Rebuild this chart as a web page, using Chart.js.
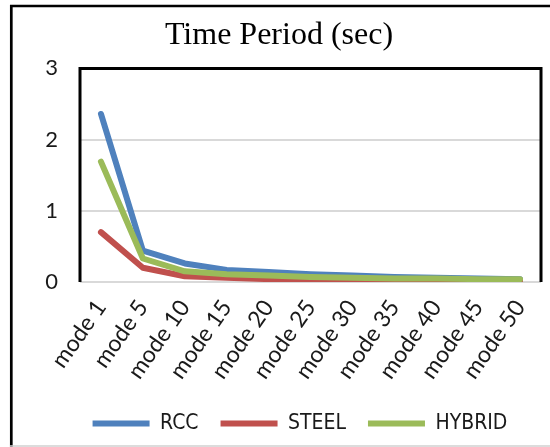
<!DOCTYPE html>
<html>
<head>
<meta charset="utf-8">
<script src="https://cdn.jsdelivr.net/npm/chart.js@4.4.1/dist/chart.umd.min.js"></script>
<style>
    html, body { margin: 0; padding: 0; background: #fff; }
    #chart { display: block; }
</style>
</head>
<body>
<canvas id="chart" width="550" height="447"></canvas>
<script>
const modes = ['mode 1', 'mode 5', 'mode 10', 'mode 15', 'mode 20', 'mode 25',
    'mode 30', 'mode 35', 'mode 40', 'mode 45', 'mode 50'];
const rcc = [2.36, 0.44, 0.26, 0.17, 0.14, 0.11, 0.09, 0.07, 0.06, 0.05, 0.04];
const steel = [0.70, 0.20, 0.08, 0.06, 0.04, 0.03, 0.03, 0.02, 0.02, 0.02, 0.02];
const hybrid = [1.69, 0.33, 0.15, 0.11, 0.09, 0.07, 0.06, 0.05, 0.05, 0.04, 0.04];
const yMax = 3;
const yStep = 1;

const textColor = '#1a1a1a';
const tickFont = "Lato, 'Liberation Sans', sans-serif";
const legendFont = "'DejaVu Sans Condensed', 'Liberation Sans', sans-serif";
const titleFont = "'Liberation Serif', 'Times New Roman', serif";

// black box round the plot (left, top, right) and the outer picture frame
const frames = {
    id: 'frames',
    afterLayout(chart) {
        // the legend sits a bit right of the title
        chart.legend.left += 21;
        chart.legend.right += 21;
    },
    beforeDatasetsDraw(chart) {
        const {ctx, chartArea: a} = chart;
        ctx.save();
        ctx.strokeStyle = '#000';
        ctx.lineWidth = 3;
        ctx.beginPath();
        ctx.moveTo(a.left, a.bottom);
        ctx.lineTo(a.left, a.top);
        ctx.lineTo(a.right, a.top);
        ctx.lineTo(a.right, a.bottom);
        ctx.stroke();
        ctx.restore();
    },
    afterDraw(chart) {
        const ctx = chart.ctx;
        ctx.save();
        ctx.strokeStyle = '#000';
        ctx.lineWidth = 2.7;
        ctx.beginPath();
        ctx.moveTo(11.3, 447);
        ctx.lineTo(11.3, 6);
        ctx.lineTo(550, 6);
        ctx.stroke();
        ctx.strokeStyle = '#d0d0d0';
        ctx.lineWidth = 1.5;
        ctx.beginPath();
        ctx.moveTo(10, 446);
        ctx.lineTo(550, 446);
        ctx.stroke();
        ctx.restore();
    }
};

function series(label, data, color, order) {
    return {
        label: label,
        data: data,
        borderColor: color,
        backgroundColor: color,
        borderWidth: 6,
        borderCapStyle: 'round',
        borderJoinStyle: 'round',
        pointRadius: 0,
        tension: 0,
        order: order
    };
}

function drawChart() {
    new Chart(document.getElementById('chart'), {
        type: 'line',
        data: {
            labels: modes,
            datasets: [
                series('RCC', rcc, '#4f81bd', 2),
                series('STEEL', steel, '#c0504d', 1),
                series('HYBRID', hybrid, '#9bbb59', 0)
            ]
        },
        options: {
            responsive: false,
            animation: false,
            layout: {
                padding: {left: 17, right: 9, top: 6, bottom: 3}
            },
            plugins: {
                title: {
                    display: true,
                    text: 'Time Period (sec)',
                    color: '#000',
                    font: {family: titleFont, size: 32, weight: 'normal'},
                    padding: {top: 10, bottom: 14}
                },
                legend: {
                    position: 'bottom',
                    labels: {
                        usePointStyle: true,
                        pointStyle: 'line',
                        pointStyleWidth: 57,
                        color: textColor,
                        padding: 22,
                        font: {family: legendFont, size: 21},
                        sort: (a, b) => a.datasetIndex - b.datasetIndex
                    }
                },
                tooltip: {enabled: false}
            },
            scales: {
                x: {
                    offset: true,
                    grid: {display: false},
                    border: {display: false},
                    ticks: {
                        color: textColor,
                        font: {family: tickFont, size: 23},
                        minRotation: 55,
                        maxRotation: 55,
                        autoSkip: false,
                        padding: 5
                    },
                    afterFit(scale) {
                        scale.height = 109;
                    }
                },
                y: {
                    min: 0,
                    max: yMax,
                    grid: {color: '#d9d9d9', lineWidth: 2, drawTicks: false},
                    border: {display: false},
                    ticks: {
                        stepSize: yStep,
                        color: textColor,
                        font: {family: tickFont, size: 22},
                        padding: 22
                    },
                    afterFit(scale) {
                        scale.width = 63;
                    }
                }
            }
        },
        plugins: [frames]
    });
}

Promise.all([
    document.fonts.load('23px Lato'),
    document.fonts.load("21px 'DejaVu Sans Condensed'"),
    document.fonts.load("32px 'Liberation Serif'")
]).finally(drawChart);
</script>
</body>
</html>
